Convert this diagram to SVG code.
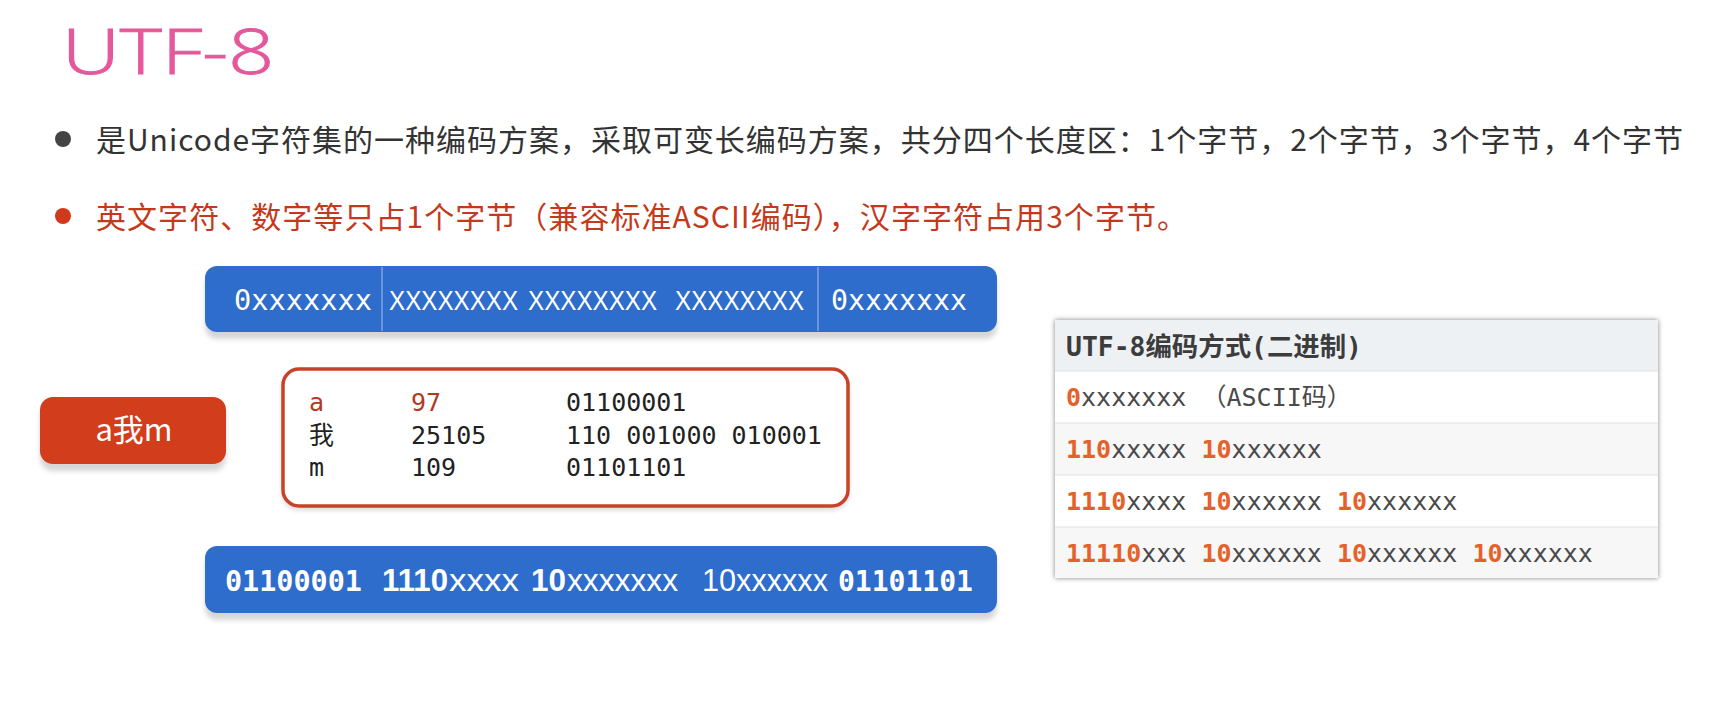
<svg xmlns="http://www.w3.org/2000/svg" width="1716" height="724" viewBox="0 0 1716 724">
<defs>
<filter id="sh" x="-10%" y="-30%" width="120%" height="170%">
<feDropShadow dx="0" dy="7" stdDeviation="2.5" flood-color="#000" flood-opacity="0.16"/>
</filter>
<filter id="bsh" x="-5%" y="-10%" width="110%" height="125%">
<feDropShadow dx="0" dy="3" stdDeviation="2" flood-color="#000" flood-opacity="0.12"/>
</filter>
<filter id="tsh" x="-5%" y="-5%" width="110%" height="110%">
<feDropShadow dx="0" dy="0" stdDeviation="2.5" flood-color="#000" flood-opacity="0.5"/>
</filter>
<style>
.cn{font-family:"Noto Sans CJK SC","Noto Sans",sans-serif;}
.mono{font-family:"DejaVu Sans Mono","Noto Sans CJK SC",monospace;}
.sans{font-family:"Liberation Sans","Noto Sans CJK SC",sans-serif;}
.bar{fill:#2d6dcb;}
.wt{fill:#ffffff;}
.or{fill:#e4622a;font-weight:bold;}
.gy{fill:#4a4a4a;}
.dk{fill:#222222;}
.rd{fill:#b13a22;}
</style>
</defs>
<rect x="0" y="0" width="1716" height="724" fill="#ffffff"/>

<g id="title">
<text x="62" y="74" font-family="Open Sans, Liberation Sans, sans-serif" font-weight="300" font-size="62" fill="#e4589c" stroke="#e4589c" stroke-width="1" textLength="212" lengthAdjust="spacingAndGlyphs">UTF-8</text>
</g>

<g id="bullet1">
<circle cx="63" cy="139" r="8" fill="#444444"/>
<text class="cn" x="96" y="151" font-size="30" fill="#333333" textLength="1587" lengthAdjust="spacing">是Unicode字符集的一种编码方案，采取可变长编码方案，共分四个长度区：1个字节，2个字节，3个字节，4个字节</text>
</g>

<g id="bullet2">
<circle cx="63" cy="216" r="8" fill="#cf3a1c"/>
<text class="cn" x="96" y="228" font-size="30" fill="#c4391b" textLength="1091" lengthAdjust="spacing">英文字符、数字等只占1个字节（兼容标准ASCII编码），汉字字符占用3个字节。</text>
</g>

<g id="topBar">
<rect class="bar" x="205" y="266" width="792" height="66" rx="12" filter="url(#sh)"/>
<line x1="382" y1="267" x2="382" y2="331" stroke="#8fb3e6" stroke-width="1.2"/>
<line x1="818" y1="267" x2="818" y2="331" stroke="#8fb3e6" stroke-width="1.2"/>
<text class="mono wt" x="234" y="310" font-size="28.5" textLength="138" lengthAdjust="spacingAndGlyphs">0xxxxxxx</text>
<text class="sans wt" x="389" y="310" font-size="28" textLength="129" lengthAdjust="spacingAndGlyphs">XXXXXXXX</text>
<text class="sans wt" x="528" y="310" font-size="28" textLength="129" lengthAdjust="spacingAndGlyphs">XXXXXXXX</text>
<text class="sans wt" x="675" y="310" font-size="28" textLength="129" lengthAdjust="spacingAndGlyphs">XXXXXXXX</text>
<text class="mono wt" x="831" y="310" font-size="28.5" textLength="136" lengthAdjust="spacingAndGlyphs">0xxxxxxx</text>
</g>

<g id="inputBtn">
<rect x="40" y="397" width="186" height="67" rx="13" fill="#d23d1e" filter="url(#sh)"/>
<text class="cn wt" x="134" y="441" font-size="31" text-anchor="middle">a我m</text>
</g>

<g id="codeBox">
<rect x="283" y="369" width="565" height="137" rx="16" fill="#ffffff" stroke="#c8432a" stroke-width="3.5" filter="url(#bsh)"/>
<text class="mono rd" x="309" y="411" font-size="25">a</text>
<text class="mono rd" x="411" y="411" font-size="25">97</text>
<text class="mono dk" x="566" y="411" font-size="25">01100001</text>
<text class="mono dk" x="309" y="444" font-size="25">我</text>
<text class="mono dk" x="411" y="444" font-size="25">25105</text>
<text class="mono dk" x="566" y="444" font-size="25">110 001000 010001</text>
<text class="mono dk" x="309" y="476" font-size="25">m</text>
<text class="mono dk" x="411" y="476" font-size="25">109</text>
<text class="mono dk" x="566" y="476" font-size="25">01101101</text>
</g>

<g id="bottomBar">
<rect class="bar" x="205" y="546" width="792" height="67" rx="12" filter="url(#sh)"/>
<text class="mono wt" x="225" y="591" font-size="28.5" font-weight="bold" textLength="137" lengthAdjust="spacingAndGlyphs">01100001</text>
<text class="sans wt" x="382" y="591" font-size="31" font-weight="bold" textLength="66" lengthAdjust="spacingAndGlyphs">1110</text>
<text class="sans wt" x="449" y="591" font-size="31" textLength="70" lengthAdjust="spacingAndGlyphs">xxxx</text>
<text class="sans wt" x="531" y="591" font-size="31" font-weight="bold" textLength="35" lengthAdjust="spacingAndGlyphs">10</text>
<text class="sans wt" x="567" y="591" font-size="31" textLength="111" lengthAdjust="spacingAndGlyphs">xxxxxxx</text>
<text class="sans wt" x="702" y="591" font-size="31" textLength="126" lengthAdjust="spacingAndGlyphs">10xxxxxx</text>
<text class="mono wt" x="838" y="591" font-size="28.5" font-weight="bold" textLength="135" lengthAdjust="spacingAndGlyphs">01101101</text>
</g>

<g id="table">
<rect x="1055" y="320" width="603" height="258" fill="#ffffff" filter="url(#tsh)"/>
<rect x="1055" y="320" width="603" height="51" fill="#eef1f4"/>
<rect x="1055" y="371" width="603" height="52" fill="#ffffff"/>
<rect x="1055" y="423" width="603" height="52" fill="#f7f7f8"/>
<rect x="1055" y="475" width="603" height="52" fill="#ffffff"/>
<rect x="1055" y="527" width="603" height="51" fill="#f7f7f8"/>
<g stroke="#e2e2e4" stroke-width="1.2">
<line x1="1055" y1="371" x2="1658" y2="371"/>
<line x1="1055" y1="423" x2="1658" y2="423"/>
<line x1="1055" y1="475" x2="1658" y2="475"/>
<line x1="1055" y1="527" x2="1658" y2="527"/>
</g>
<text class="mono" x="1066" y="356" font-size="26" font-weight="bold" fill="#3c3c3c" textLength="296" lengthAdjust="spacingAndGlyphs">UTF-8编码方式(二进制)</text>
<text class="mono" x="1066" y="406" font-size="25"><tspan class="or">0</tspan><tspan class="gy">xxxxxxx （ASCII码）</tspan></text>
<text class="mono" x="1066" y="458" font-size="25"><tspan class="or">110</tspan><tspan class="gy">xxxxx </tspan><tspan class="or">10</tspan><tspan class="gy">xxxxxx</tspan></text>
<text class="mono" x="1066" y="510" font-size="25"><tspan class="or">1110</tspan><tspan class="gy">xxxx </tspan><tspan class="or">10</tspan><tspan class="gy">xxxxxx </tspan><tspan class="or">10</tspan><tspan class="gy">xxxxxx</tspan></text>
<text class="mono" x="1066" y="562" font-size="25"><tspan class="or">11110</tspan><tspan class="gy">xxx </tspan><tspan class="or">10</tspan><tspan class="gy">xxxxxx </tspan><tspan class="or">10</tspan><tspan class="gy">xxxxxx </tspan><tspan class="or">10</tspan><tspan class="gy">xxxxxx</tspan></text>
</g>

<g id="connectors"/>
</svg>
